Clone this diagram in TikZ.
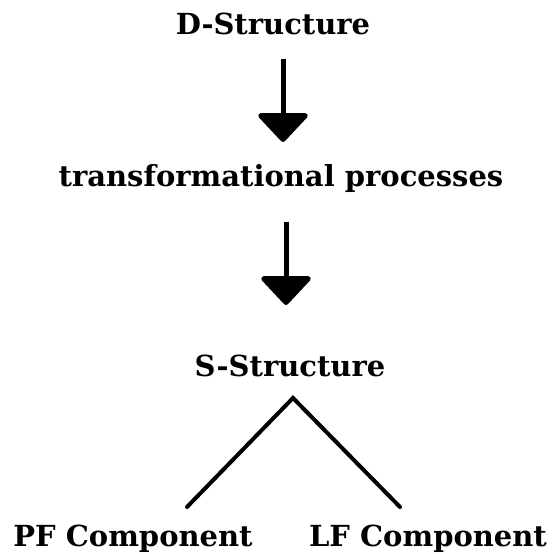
\documentclass[tikz,border=0pt]{standalone}
\usepackage{fontspec}
\setmainfont{DejaVu Serif}
\usetikzlibrary{arrows.meta}
\begin{document}
\begin{tikzpicture}[x=1pt,y=1pt,
  lbl/.style={anchor=base,inner sep=0pt,font=\fontsize{29}{32}\selectfont\bfseries},
  bigarrow/.style={line width=5pt,-{Triangle[width=55pt,length=30pt,round]}},
  branch/.style={line width=4pt,line join=miter,line cap=round}]
\useasboundingbox (0,0) rectangle (554,554);
\node[lbl] (D) at (273,519) {D-Structure};
\node[lbl] (T) at (281,367) {transformational processes};
\node[lbl] (S) at (290,177) {S-Structure};
\node[lbl] (PF) at (133,7) {PF Component};
\node[lbl] (LF) at (428,7) {LF Component};
\coordinate (a1s) at (283,495);
\coordinate (a1e) at (283,412);
\coordinate (a2s) at (286,332);
\coordinate (a2e) at (286,249);
\coordinate (apex) at (293,156);
\coordinate (pfend) at (187,47);
\coordinate (lfend) at (400,47);
\draw[bigarrow] (a1s) -- (a1e);
\draw[bigarrow] (a2s) -- (a2e);
\draw[branch] (pfend) -- (apex) -- (lfend);
\end{tikzpicture}
\end{document}
